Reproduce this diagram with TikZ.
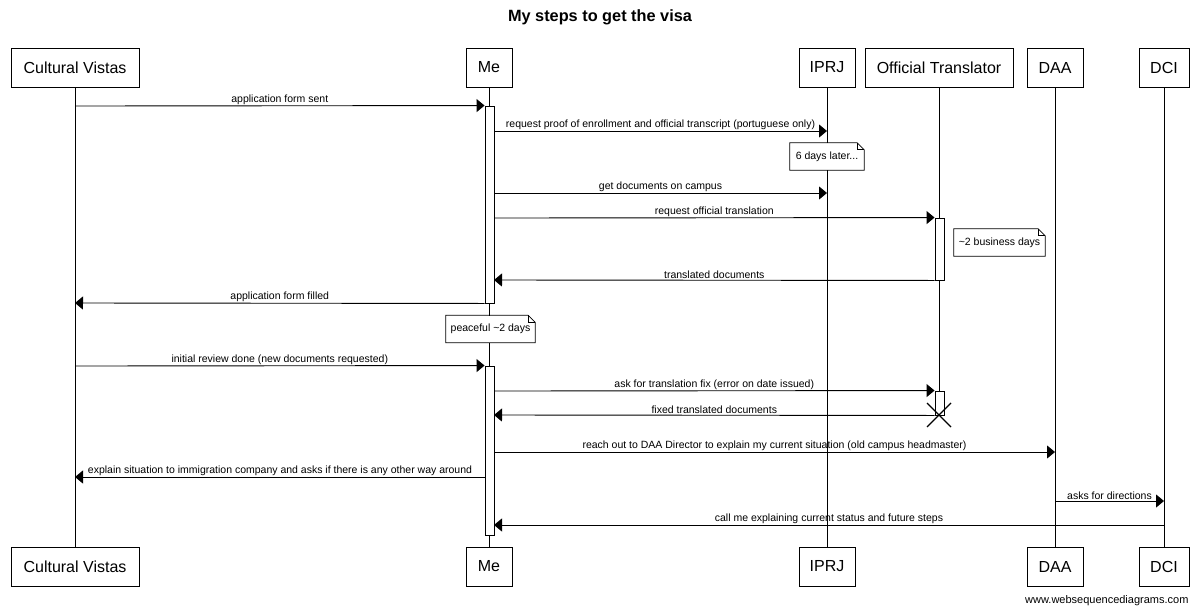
\documentclass[tikz,border=0pt]{standalone}
\usepackage{fontspec}
\setmainfont{Liberation Sans}
\usetikzlibrary{arrows.meta}
\begin{document}
\begin{tikzpicture}[x=1pt,y=-1pt,
  part/.style={draw, fill=white, line width=0.9pt, minimum height=39pt, inner sep=0pt, font=\fontsize{16}{19}\selectfont},
  life/.style={line width=0.9pt},
  act/.style={draw, fill=white, line width=0.9pt, minimum width=9pt, inner sep=0pt},
  msg/.style={line width=0.9pt, -{Triangle[length=8pt,width=13pt]}},
  lbl/.style={font=\fontsize{10.5}{12}\selectfont, above, inner sep=1pt},
  notebox/.style={fill=white, inner xsep=4pt, inner ysep=0pt, minimum height=27pt, font=\fontsize{10.5}{12}\selectfont}]
\useasboundingbox (0,0) rectangle (1200,614);
\node[font=\bfseries\fontsize{16.3}{19}\selectfont] (title) at (600,17) {My steps to get the visa};
% participants top
\node[part, minimum width=128pt] (cvT) at (75,67.5) {Cultural Vistas};
\node[part, minimum width=46pt] (meT) at (489,67.5) {Me};
\node[part, minimum width=56pt] (ipT) at (827,67.5) {IPRJ};
\node[part, minimum width=148pt] (otT) at (939,67.5) {Official Translator};
\node[part, minimum width=56pt] (daT) at (1055,67.5) {DAA};
\node[part, minimum width=50pt] (dcT) at (1164,67.5) {DCI};
% participants bottom
\node[part, minimum width=128pt] (cvB) at (75,566.5) {Cultural Vistas};
\node[part, minimum width=46pt] (meB) at (489,566.5) {Me};
\node[part, minimum width=56pt] (ipB) at (827,566.5) {IPRJ};
\node[part, minimum width=56pt] (daB) at (1055,566.5) {DAA};
\node[part, minimum width=50pt] (dcB) at (1164,566.5) {DCI};
\coordinate (otX) at (939,415);
% lifelines
\draw[life] (cvT.south) -- (cvB.north);
\draw[life] (meT.south) -- (meB.north);
\draw[life] (ipT.south) -- (ipB.north);
\draw[life] (otT.south) -- (otX);
\draw[life] (daT.south) -- (daB.north);
\draw[life] (dcT.south) -- (dcB.north);
% activations
\node[act, minimum height=197pt] (meA1) at (489.5,204.5) {};
\node[act, minimum height=62pt] (otA1) at (939.5,249) {};
\node[act, minimum height=169pt] (meA2) at (489.5,450.5) {};
\node[act, minimum height=24pt] (otA2) at (939.5,403) {};
% coordinates on lifelines
\coordinate (cv106) at (75,106);
\coordinate (me131) at (494,131);  \coordinate (ip131) at (827,131);
\coordinate (me193) at (494,193);  \coordinate (ip193) at (827,193);
\coordinate (me218) at (494,218);
\coordinate (me280) at (494,280);
\coordinate (cv304) at (75,303);
\coordinate (cv366) at (75,366);
\coordinate (me391) at (494,391);
\coordinate (me415) at (494,415);
\coordinate (me452) at (494,452);  \coordinate (da452) at (1055,452);
\coordinate (me477) at (485,477);  \coordinate (cv477) at (75,477);
\coordinate (da501) at (1055,501); \coordinate (dc501) at (1164,501);
\coordinate (dc525) at (1164,525); \coordinate (me525) at (494,525);
% messages
\draw[msg] (cv106) -- node[lbl] {application form sent} (meA1.north west);
\draw[msg] (me131) -- node[lbl] {request proof of enrollment and official transcript (portuguese only)} (ip131);
\draw[msg] (me193) -- node[lbl] {get documents on campus} (ip193);
\draw[msg] (me218) -- node[lbl] {request official translation} (otA1.north west);
\draw[msg] (otA1.south west) -- node[lbl] {translated documents} (me280);
\draw[msg] (meA1.south west) -- node[lbl] {application form filled} (cv304);
\draw[msg] (cv366) -- node[lbl] {initial review done (new documents requested)} (meA2.north west);
\draw[msg] (me391) -- node[lbl] {ask for translation fix (error on date issued)} (otA2.north west);
\draw[msg] (otA2.south west) -- node[lbl] {fixed translated documents} (me415);
\draw[msg] (me452) -- node[lbl] {reach out to DAA Director to explain my current situation (old campus headmaster)} (da452);
\draw[msg] (me477) -- node[lbl] {explain situation to immigration company and asks if there is any other way around} (cv477);
\draw[msg] (da501) -- node[lbl] {asks for directions} (dc501);
\draw[msg] (dc525) -- node[lbl] {call me explaining current status and future steps} (me525);
% destroy mark
\draw[line width=1.2pt] ([xshift=-12pt,yshift=12pt]otX) -- ([xshift=12pt,yshift=-12pt]otX)
  ([xshift=-12pt,yshift=-12pt]otX) -- ([xshift=12pt,yshift=12pt]otX);
% notes
\node[notebox, minimum width=74pt] (n1) at (827,156.5) {6 days later...};
\node[notebox, minimum width=91pt] (n2) at (999.5,242.5) {\textasciitilde 2 business days};
\node[notebox, minimum width=89pt] (n3) at (490.5,329) {peaceful \textasciitilde 2 days};
\foreach \n in {n1,n2,n3} {
  \draw[line width=0.8pt] (\n.south west) -- (\n.north west) -- ([xshift=-7pt]\n.north east)
    -- ([yshift=-7pt]\n.north east) -- (\n.south east) -- cycle;
  \draw[line width=0.8pt] ([xshift=-7pt]\n.north east) |- ([yshift=-7pt]\n.north east);
}
\node[anchor=east, font=\fontsize{11}{13}\selectfont] (foot) at (1192,601) {www.websequencediagrams.com};
\end{tikzpicture}
\end{document}
